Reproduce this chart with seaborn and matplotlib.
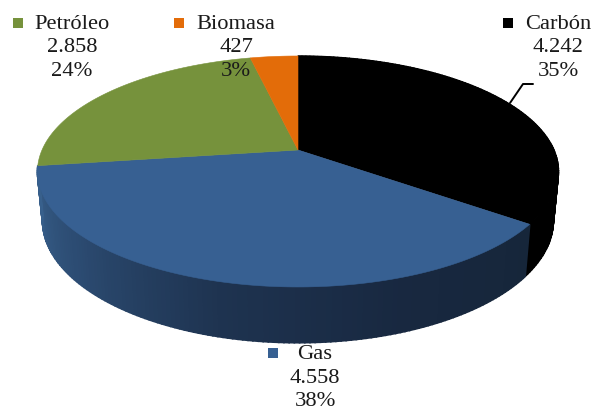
import numpy as np
import matplotlib
matplotlib.use("Agg")
import matplotlib.pyplot as plt
import seaborn as sns

# Data
fuels = ["Carbón", "Gas", "Petróleo", "Biomasa"]
values = [4242, 4558, 2858, 427]
value_labels = ["4.242", "4.558", "2.858", "427"]
pct_labels = ["35%", "38%", "24%", "3%"]
colors = ["#000000", "#376092", "#76923C", "#E36C09"]

# legend text centre and marker centre, in pixels
text_pos = [(558, 48), (315, 378), (72, 48), (236, 48)]
marker_pos = [(508, 23), (273, 353), (18, 23), (179, 23)]

sns.set_theme(style="white")
plt.rcParams["font.family"] = ["Liberation Serif", "DejaVu Serif"]


def project(theta, cx, cy, r, k, c):
    # flat pie circle to screen, with a little perspective
    u, v = np.cos(theta), np.sin(theta)
    d = 1 + c * v
    return cx + r * u / d, cy - k * v / d


fig, ax = plt.subplots(figsize=(5.94, 4.11), dpi=100)
ax.set_position([0, 0, 1, 1])

wedges, _ = ax.pie(values, colors=colors, startangle=90, counterclock=False)
for w in wedges:
    w.set_visible(False)

ax.set_aspect("auto")
ax.set_xlim(0, 594)
ax.set_ylim(411, 0)

top = dict(cx=298, cy=150, r=256, k=111.5, c=0.186)
bottom = dict(cx=298, cy=198, r=251, k=117.8, c=0.186)

# side wall, carbon is flat black
th = np.radians(np.linspace(wedges[0].theta1, wedges[0].theta2, 121))
x1, y1 = project(th, **top)
x2, y2 = project(th, **bottom)
for i in range(120):
    ax.fill([x1[i], x1[i + 1], x2[i + 1], x2[i]],
            [y1[i], y1[i + 1], y2[i + 1], y2[i]],
            color=colors[0], lw=1.0, zorder=1)

# side wall of gas gets darker to the right
n = 140
shades = sns.blend_palette(["#16263A", "#182840", "#1E3350", "#2B4A70", "#38608C"], n)
th = np.radians(np.linspace(wedges[1].theta2, wedges[1].theta1, n + 1))
x1, y1 = project(th, **top)
x2, y2 = project(th, **bottom)
for i in range(n):
    ax.fill([x1[i], x1[i + 1], x2[i + 1], x2[i]],
            [y1[i], y1[i + 1], y2[i + 1], y2[i]],
            color=shades[i], lw=1.2, zorder=2)

# top face
for w, col in zip(wedges, colors):
    th = np.radians(np.linspace(w.theta1, w.theta2, 150))
    x, y = project(th, **top)
    ax.fill(np.r_[top["cx"], x], np.r_[top["cy"], y], color=col, lw=0.4, zorder=3)

# labels
for i, fuel in enumerate(fuels):
    ax.text(text_pos[i][0], text_pos[i][1],
            fuel + "\n" + value_labels[i] + "\n" + pct_labels[i],
            ha="center", va="center", fontsize=16.2, color="#1a1a1a",
            linespacing=1.3, zorder=5)
    ax.plot(*marker_pos[i], marker="s", ms=7.8, color=colors[i], mew=0, zorder=5)

# leader line for carbon
ax.plot([510, 523, 533], [103, 84, 84], color="black", lw=1.4, zorder=4)

ax.axis("off")
plt.savefig("out.png", dpi=100)
